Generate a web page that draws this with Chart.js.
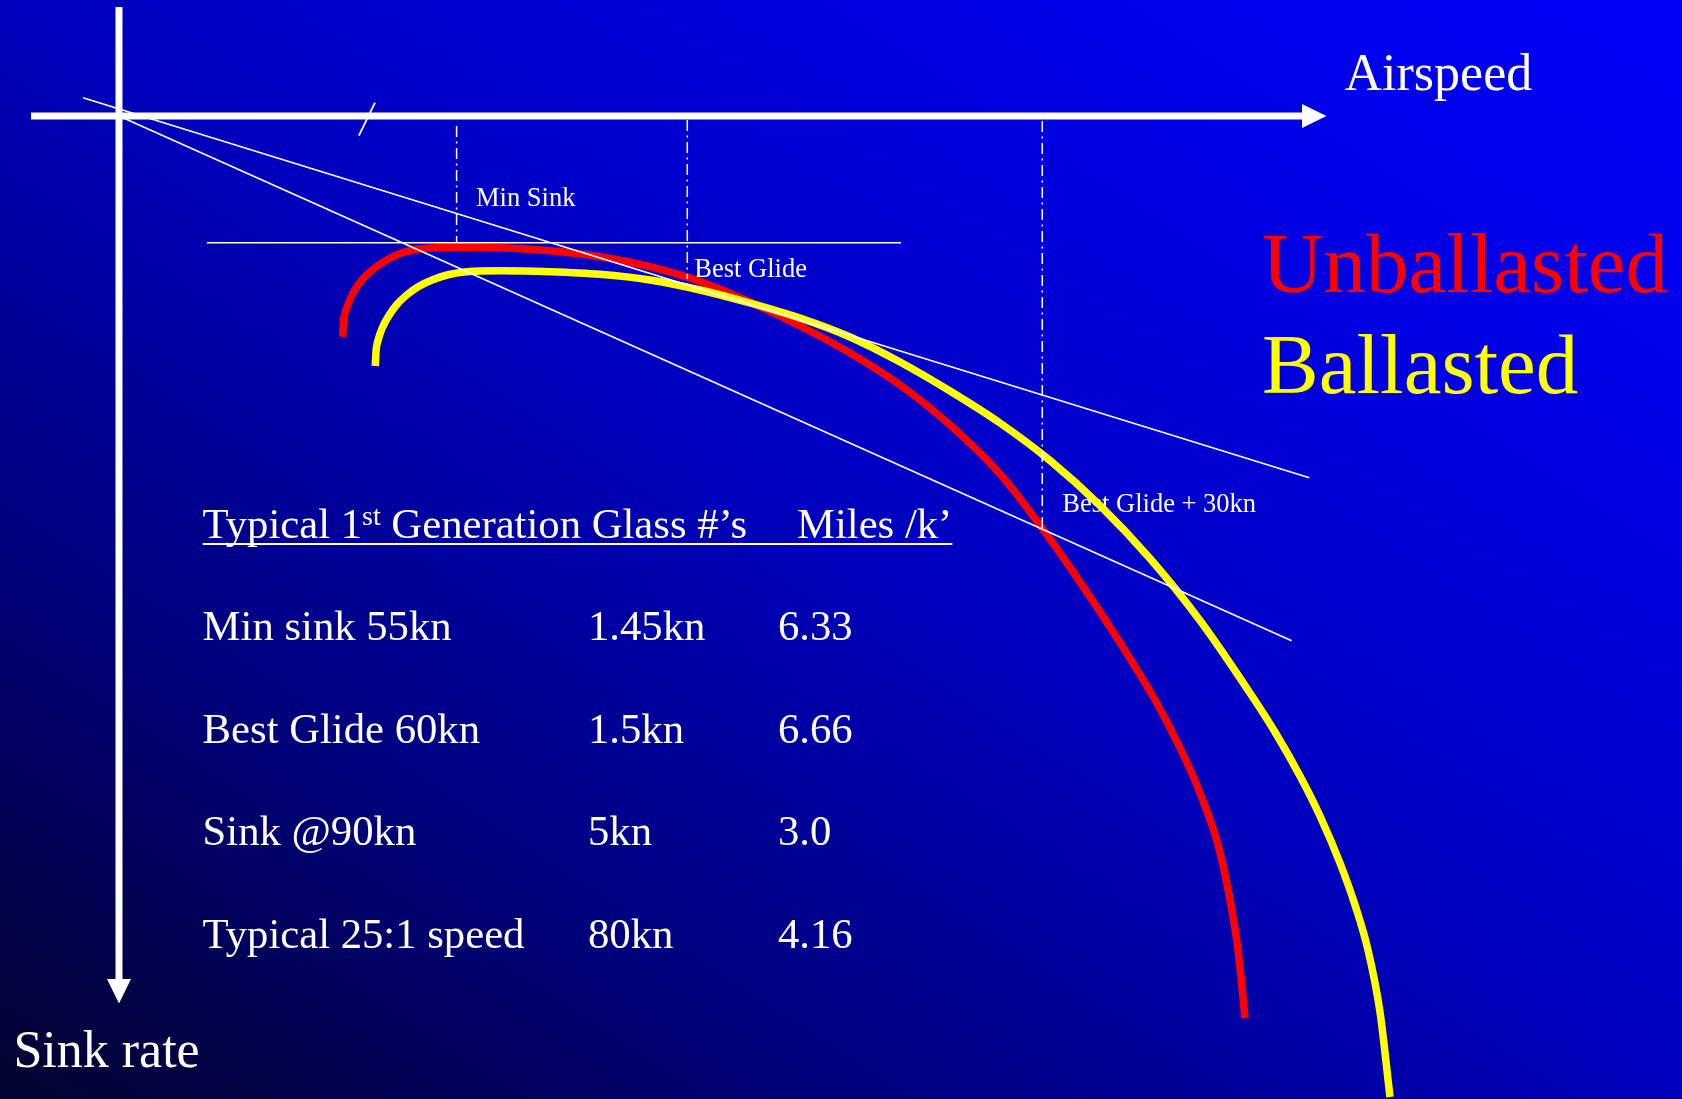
<!DOCTYPE html>
<html>
<head>
<meta charset="utf-8">
<title>Glider polar – ballasted vs unballasted</title>
<script src="https://cdn.jsdelivr.net/npm/chart.js@4.4.1/dist/chart.umd.min.js"></script>
<style>
  html, body { margin: 0; padding: 0; background: #00008a; overflow: hidden; }
  canvas { display: block; }
</style>
</head>
<body>
<canvas id="polar" width="1682" height="1099"></canvas>
<script>
// Diagram units: airspeed to the right, sink rate downwards,
// zero where the two axes cross.

// Unballasted polar (red)
const unballastedSpeed = [22.37, 22.45, 22.77, 23.25, 23.93, 24.75, 25.77, 26.9, 28.1, 29.4, 30.77, 33.1, 38.1, 43.1,
  48.1, 53.1, 58.1, 63.1, 68.1, 73.1, 78.1, 83.1, 88.1, 92.3, 98.1, 103.6, 106.1, 108.1, 109.9, 111.1, 111.9, 112.6];
const unballastedSink = [22.07, 20.6, 19.2, 18.0, 16.85, 15.9, 15.05, 14.33, 13.75, 13.4, 13.23, 13.13, 13.17, 13.47,
  14.07, 15.07, 16.55, 18.6, 21.0, 23.7, 26.9, 30.9, 35.8, 41.2, 49.6, 58.4, 63.2, 67.7, 72.9, 78.4, 83.4, 90.2];

// Ballasted polar (yellow)
const ballastedSpeed = [25.63, 25.7, 25.93, 26.35, 26.93, 27.75, 28.77, 30.0, 31.43, 33.0, 34.77, 38.1, 43.1, 48.1,
  53.1, 58.1, 63.1, 68.1, 73.1, 78.1, 83.1, 88.1, 93.1, 98.1, 103.1, 108.1, 113.1, 115.6, 118.1, 120.1, 122.1, 123.6,
  124.9, 126.1, 127.1];
const ballastedSink = [25.0, 23.6, 22.35, 21.15, 20.05, 18.9, 17.9, 17.03, 16.35, 15.85, 15.57, 15.47, 15.57, 15.83,
  16.4, 17.4, 18.7, 20.2, 22.1, 24.6, 27.5, 30.7, 34.45, 38.95, 44.25, 50.45, 57.7, 61.6, 66.0, 70.0, 74.7, 78.9,
  83.4, 89.6, 98.1];

// Axes (shaft extents, arrow heads added at the far ends)
const airspeedAxis = [-8.8, 118.4];
const sinkAxis = [-10.9, 86.4];

// Tangent lines from the origin
const bestGlideTangentSpeed = [-3.6, 119.03];
const bestGlideTangentSink = [-1.83, 36.17];
const fastTangentSpeed = [0, 117.27];
const fastTangentSink = [0, 52.47];

// Minimum-sink level line
const minSinkLevelSpeed = [8.8, 78.2];
const minSinkLevel = 12.67;

// Speed markers: min sink, best glide, best glide + 30kn
const markerSpeed = [33.76, 56.83, 92.33];
const markerFrom = [1.0, 0.4, 0.5];
const markerTo = [12.67, 16.3, 41.4];
const markerLabels = ['Min Sink', 'Best Glide', 'Best Glide + 30kn'];

// Small break mark on the airspeed axis
const breakSpeed = [25.6, 23.99];
const breakSink = [-1.33, 1.97];

// Table of typical figures
const tableHeading = ['Typical 1', 'st', ' Generation Glass #\u2019s', 'Miles /k\u2019'];
const rowLabels = ['Min sink 55kn', 'Best Glide 60kn', 'Sink @90kn', 'Typical 25:1 speed'];
const rowSecond = ['1.45kn', '1.5kn', '5kn', '80kn'];
const rowMiles = ['6.33', '6.66', '3.0', '4.16'];

const SERIF = '"Liberation Serif", "Times New Roman", serif';
const WHITE = '#ffffff';

function pts(xs, ys) { return xs.map((x, i) => ({ x: x, y: ys[i] })); }

function lineSet(label, data, color, width, order, extra) {
  return Object.assign({
    label: label,
    data: data,
    showLine: true,
    borderColor: color,
    backgroundColor: color,
    borderWidth: width,
    pointRadius: 0,
    pointHoverRadius: 0,
    tension: 0,
    fill: false,
    order: order,
    borderCapStyle: 'butt'
  }, extra || {});
}

const smooth = { cubicInterpolationMode: 'monotone' };

const datasets = [];
// thin white construction lines on top
datasets.push(lineSet('best glide tangent', pts(bestGlideTangentSpeed, bestGlideTangentSink), WHITE, 1.6, 0));
datasets.push(lineSet('fast tangent', pts(fastTangentSpeed, fastTangentSink), WHITE, 1.6, 0));
datasets.push(lineSet('min sink level', pts(minSinkLevelSpeed, [minSinkLevel, minSinkLevel]), WHITE, 1.6, 0));
markerSpeed.forEach((s, i) => {
  datasets.push(lineSet(markerLabels[i], pts([s, s], [markerFrom[i], markerTo[i]]), WHITE, 1.5, 0,
    { borderDash: [11, 4.5, 2, 4.5] }));
});
datasets.push(lineSet('axis break', pts(breakSpeed, breakSink), WHITE, 1.8, 0));
datasets.push(lineSet('airspeed axis', pts(airspeedAxis, [0, 0]), WHITE, 7, 0));
datasets.push(lineSet('sink axis', pts([0, 0], sinkAxis), WHITE, 7, 0));
// polars: yellow drawn over red
datasets.push(lineSet('Ballasted', pts(ballastedSpeed, ballastedSink), '#ffff00', 7.5, 1, smooth));
datasets.push(lineSet('Unballasted', pts(unballastedSpeed, unballastedSink), '#ff0000', 7.5, 2, smooth));

// Diagonal blue background, dark at bottom-left, bright at top-right
const backgroundPlugin = {
  id: 'slideBackground',
  beforeDraw(chart) {
    const ctx = chart.ctx;
    const w = chart.width, h = chart.height;
    ctx.save();
    ctx.scale(w, h);
    const g = ctx.createLinearGradient(0, 1, 1, 0);
    g.addColorStop(0, 'rgb(3,3,46)');
    g.addColorStop(0.25, 'rgb(0,0,122)');
    g.addColorStop(0.5, 'rgb(0,0,188)');
    g.addColorStop(0.75, 'rgb(0,0,224)');
    g.addColorStop(1, 'rgb(0,0,250)');
    ctx.fillStyle = g;
    ctx.fillRect(0, 0, 1, 1);
    ctx.restore();
  }
};

// Text labels placed in diagram units, drawn beneath the curves
const textPlugin = {
  id: 'diagramText',
  beforeDatasetsDraw(chart) {
    const ctx = chart.ctx;
    const xs = chart.scales.x, ys = chart.scales.y;
    const labels = [
      { t: 'Airspeed', x: 122.55, y: -2.6, size: 52, c: WHITE },
      { t: 'Sink rate', x: -10.56, y: 95.07, size: 52, c: WHITE },
      { t: 'Unballasted', x: 114.3, y: 17.57, size: 85, c: '#ff0000' },
      { t: 'Ballasted', x: 114.3, y: 27.73, size: 85, c: '#ffff00' },
      { t: markerLabels[0], x: markerSpeed[0] + 1.94, y: 9.0, size: 26.5, c: WHITE },
      { t: markerLabels[1], x: markerSpeed[1] + 0.7, y: 16.13, size: 26.5, c: WHITE },
      { t: markerLabels[2], x: markerSpeed[2] + 2.0, y: 39.63, size: 26.5, c: WHITE }
    ];
    ctx.save();
    ctx.textBaseline = 'alphabetic';
    ctx.textAlign = 'left';
    labels.forEach(l => {
      ctx.font = l.size + 'px ' + SERIF;
      ctx.fillStyle = l.c;
      ctx.fillText(l.t, xs.getPixelForValue(l.x), ys.getPixelForValue(l.y));
    });

    // table block
    const big = 42.7, sup = 28;
    const left = 202.6, col2 = 588, col3 = 778, milesX = 797;
    const headBase = 538, rowBase = [640, 742.6, 845.2, 947.8];
    ctx.fillStyle = WHITE;
    ctx.font = big + 'px ' + SERIF;
    let cx = left;
    ctx.fillText(tableHeading[0], cx, headBase);
    cx += ctx.measureText(tableHeading[0]).width;
    ctx.font = sup + 'px ' + SERIF;
    ctx.fillText(tableHeading[1], cx, headBase - 13);
    cx += ctx.measureText(tableHeading[1]).width;
    ctx.font = big + 'px ' + SERIF;
    ctx.fillText(tableHeading[2], cx, headBase);
    ctx.fillText(tableHeading[3], milesX, headBase);
    const headEnd = milesX + ctx.measureText(tableHeading[3]).width;
    ctx.fillRect(left, 543, headEnd - left, 2);
    rowLabels.forEach((r, i) => {
      ctx.fillText(r, left, rowBase[i]);
      ctx.fillText(rowSecond[i], col2, rowBase[i]);
      ctx.fillText(rowMiles[i], col3, rowBase[i]);
    });
    ctx.restore();
  },
  afterDatasetsDraw(chart) {
    // arrow heads at the far ends of both axes
    const ctx = chart.ctx;
    const xs = chart.scales.x, ys = chart.scales.y;
    const ox = xs.getPixelForValue(0), oy = ys.getPixelForValue(0);
    const ax = xs.getPixelForValue(airspeedAxis[1]);
    const sy = ys.getPixelForValue(sinkAxis[1]);
    const len = 23.5, half = 12;
    ctx.save();
    ctx.fillStyle = WHITE;
    ctx.beginPath();
    ctx.moveTo(ax - 1, oy - half);
    ctx.lineTo(ax + len, oy);
    ctx.lineTo(ax - 1, oy + half);
    ctx.closePath();
    ctx.fill();
    ctx.beginPath();
    ctx.moveTo(ox - half, sy - 1);
    ctx.lineTo(ox, sy + len);
    ctx.lineTo(ox + half, sy - 1);
    ctx.closePath();
    ctx.fill();
    ctx.restore();
  }
};

function draw() {
  new Chart(document.getElementById('polar'), {
    type: 'scatter',
    data: { datasets: datasets },
    options: {
      responsive: false,
      animation: false,
      devicePixelRatio: 1,
      layout: { padding: 0 },
      events: [],
      plugins: {
        legend: { display: false },
        tooltip: { enabled: false },
        title: { display: false }
      },
      scales: {
        x: { type: 'linear', min: -11.9, max: 156.3, display: false },
        y: { type: 'linear', min: -11.6, max: 98.3, reverse: true, display: false }
      }
    },
    plugins: [backgroundPlugin, textPlugin]
  });
}

if (document.fonts && document.fonts.load) {
  document.fonts.load('42px "Liberation Serif"').then(draw, draw);
} else {
  draw();
}
</script>
</body>
</html>
